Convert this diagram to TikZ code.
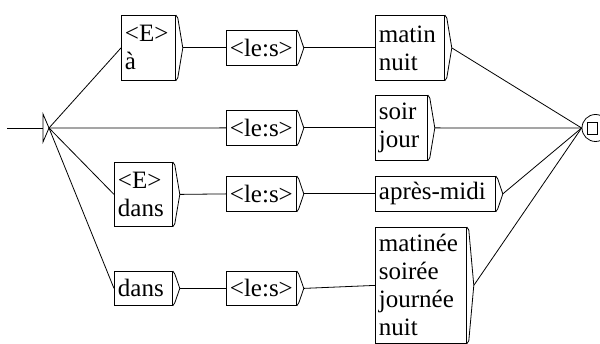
\documentclass[tikz,border=0pt]{standalone}
\usepackage{fontspec}
\setmainfont{Liberation Serif}
\usetikzlibrary{calc}
\tikzset{box/.style={draw,anchor=north west,inner xsep=3.5pt,inner ysep=0pt,align=left,font=\fontsize{25}{28}\selectfont}}
\newcommand{\exitmark}[1]{\draw (#1.north east)--++(2,3)--($(#1.east)+(7,0)$) coordinate (#1-out)--($(#1.south east)+(2,-3)$)--(#1.south east);}
\begin{document}
\begin{tikzpicture}[x=1pt,y=-1pt,line width=0.8pt]
\useasboundingbox (0,0) rectangle (600,344);
% initial state
\coordinate (in) at (7,128);
\coordinate (init) at (49,128);
\draw (43,114)--(init)--(43,142)--cycle;
\draw (in)--(43,128);
% final state
\node[circle,draw,minimum size=27pt,inner sep=0pt] (fin) at (595.5,128) {};
\node[draw,minimum width=10pt,minimum height=12pt,inner sep=0pt] at (592,128) {};
% boxes
\node[box,text width=47pt,minimum height=65pt] (e1) at (121,15) {<E>\\à};
\node[box,text width=63pt,minimum height=35pt] (le1) at (226,30) {<le:s>};
\node[box,text width=62pt,minimum height=65pt] (mn) at (375,15) {matin\\nuit};
\node[box,text width=45pt,minimum height=65pt] (sj) at (375,95) {soir\\jour};
\node[box,text width=63pt,minimum height=35pt] (le2) at (226,110) {<le:s>};
\node[box,text width=51pt,minimum height=64pt] (e3) at (114,162) {<E>\\dans};
\node[box,text width=63pt,minimum height=35pt] (le3) at (226,176) {<le:s>};
\node[box,text width=113pt,minimum height=35pt] (am) at (375,176) {après-midi};
\node[box,text width=51pt,minimum height=34pt] (d4) at (114,271) {dans};
\node[box,text width=63pt,minimum height=34pt] (le4) at (226,271) {<le:s>};
\node[box,text width=84pt,minimum height=116pt] (mat) at (375,227) {matinée\\soirée\\journée\\nuit};
\foreach \b in {e1,le1,mn,le2,sj,e3,le3,am,d4,le4,mat} {\exitmark{\b}}
% transitions
\draw (init)--(e1.west);
\draw (init)--(le2.west);
\draw (init)--(e3.west);
\draw (init)--(d4.west);
\draw (e1-out)--(le1.west);
\draw (le1-out)--(mn.west);
\draw (le2-out)--(sj.west);
\draw (e3-out)--(le3.west);
\draw (le3-out)--(am.west);
\draw (d4-out)--(le4.west);
\draw (le4-out)--(mat.west);
\draw (mn-out)--(fin.west);
\draw (sj-out)--(fin.west);
\draw (am-out)--(fin.west);
\draw (mat-out)--(fin.west);
\end{tikzpicture}
\end{document}
